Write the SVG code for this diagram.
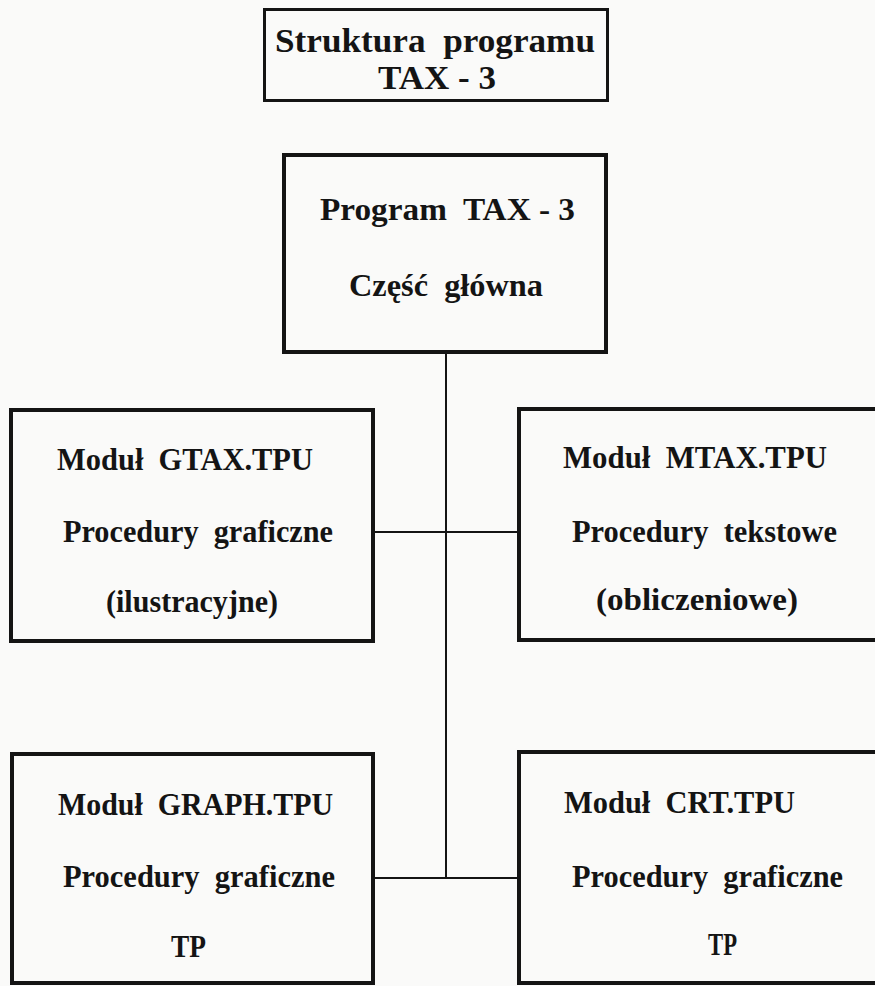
<svg xmlns="http://www.w3.org/2000/svg" width="875" height="986" viewBox="0 0 875 986">
<style>
.box{fill:none;stroke:#141414;stroke-width:4}
.title{stroke-width:3}
.con{fill:none;stroke:#141414;stroke-width:2}
text{font-family:"Liberation Serif",serif;font-weight:bold;fill:#141414;font-size:31px}
.t{font-size:33px}
.m{font-size:32px}
</style>
<rect width="875" height="986" fill="#fafaf9"/>
<g id="connectors">
<line class="con" x1="446" y1="354" x2="446" y2="879"/>
<line class="con" x1="374" y1="532" x2="518" y2="532"/>
<line class="con" x1="374" y1="878" x2="518" y2="878"/>
</g>
<g id="title">
<rect class="box title" x="264.5" y="9.5" width="343" height="91"/>
<text class="t" x="275" y="52" textLength="320" lengthAdjust="spacingAndGlyphs" xml:space="preserve">Struktura  programu</text>
<text class="t" x="378" y="89" textLength="118" lengthAdjust="spacingAndGlyphs">TAX - 3</text>
</g>
<g id="main">
<rect class="box" x="284" y="155" width="322" height="197"/>
<text class="m" x="320" y="220" textLength="255" lengthAdjust="spacingAndGlyphs" xml:space="preserve">Program  TAX - 3</text>
<text class="m" x="349" y="296" textLength="194" lengthAdjust="spacingAndGlyphs" xml:space="preserve">Część  główna</text>
</g>
<g id="gtax">
<rect class="box" x="11" y="410" width="362" height="231"/>
<text x="57" y="470" textLength="256" lengthAdjust="spacingAndGlyphs" xml:space="preserve">Moduł  GTAX.TPU</text>
<text x="63" y="542" textLength="270" lengthAdjust="spacingAndGlyphs" xml:space="preserve">Procedury  graficzne</text>
<text x="106" y="612" textLength="172" lengthAdjust="spacingAndGlyphs">(ilustracyjne)</text>
</g>
<g id="mtax">
<rect class="box" x="519" y="409" width="380" height="231"/>
<text x="563" y="468" textLength="264" lengthAdjust="spacingAndGlyphs" xml:space="preserve">Moduł  MTAX.TPU</text>
<text x="572" y="542" textLength="265" lengthAdjust="spacingAndGlyphs" xml:space="preserve">Procedury  tekstowe</text>
<text x="596" y="610" textLength="202" lengthAdjust="spacingAndGlyphs">(obliczeniowe)</text>
</g>
<g id="graph">
<rect class="box" x="12" y="754" width="361" height="229"/>
<text x="58" y="815" textLength="275" lengthAdjust="spacingAndGlyphs" xml:space="preserve">Moduł  GRAPH.TPU</text>
<text x="63" y="887" textLength="272" lengthAdjust="spacingAndGlyphs" xml:space="preserve">Procedury  graficzne</text>
<text x="171" y="957" textLength="35" lengthAdjust="spacingAndGlyphs">TP</text>
</g>
<g id="crt">
<rect class="box" x="519" y="752" width="380" height="231"/>
<text x="564" y="813" textLength="231" lengthAdjust="spacingAndGlyphs" xml:space="preserve">Moduł  CRT.TPU</text>
<text x="572" y="887" textLength="271" lengthAdjust="spacingAndGlyphs" xml:space="preserve">Procedury  graficzne</text>
<text x="708" y="955" textLength="29" lengthAdjust="spacingAndGlyphs">TP</text>
</g>
</svg>
